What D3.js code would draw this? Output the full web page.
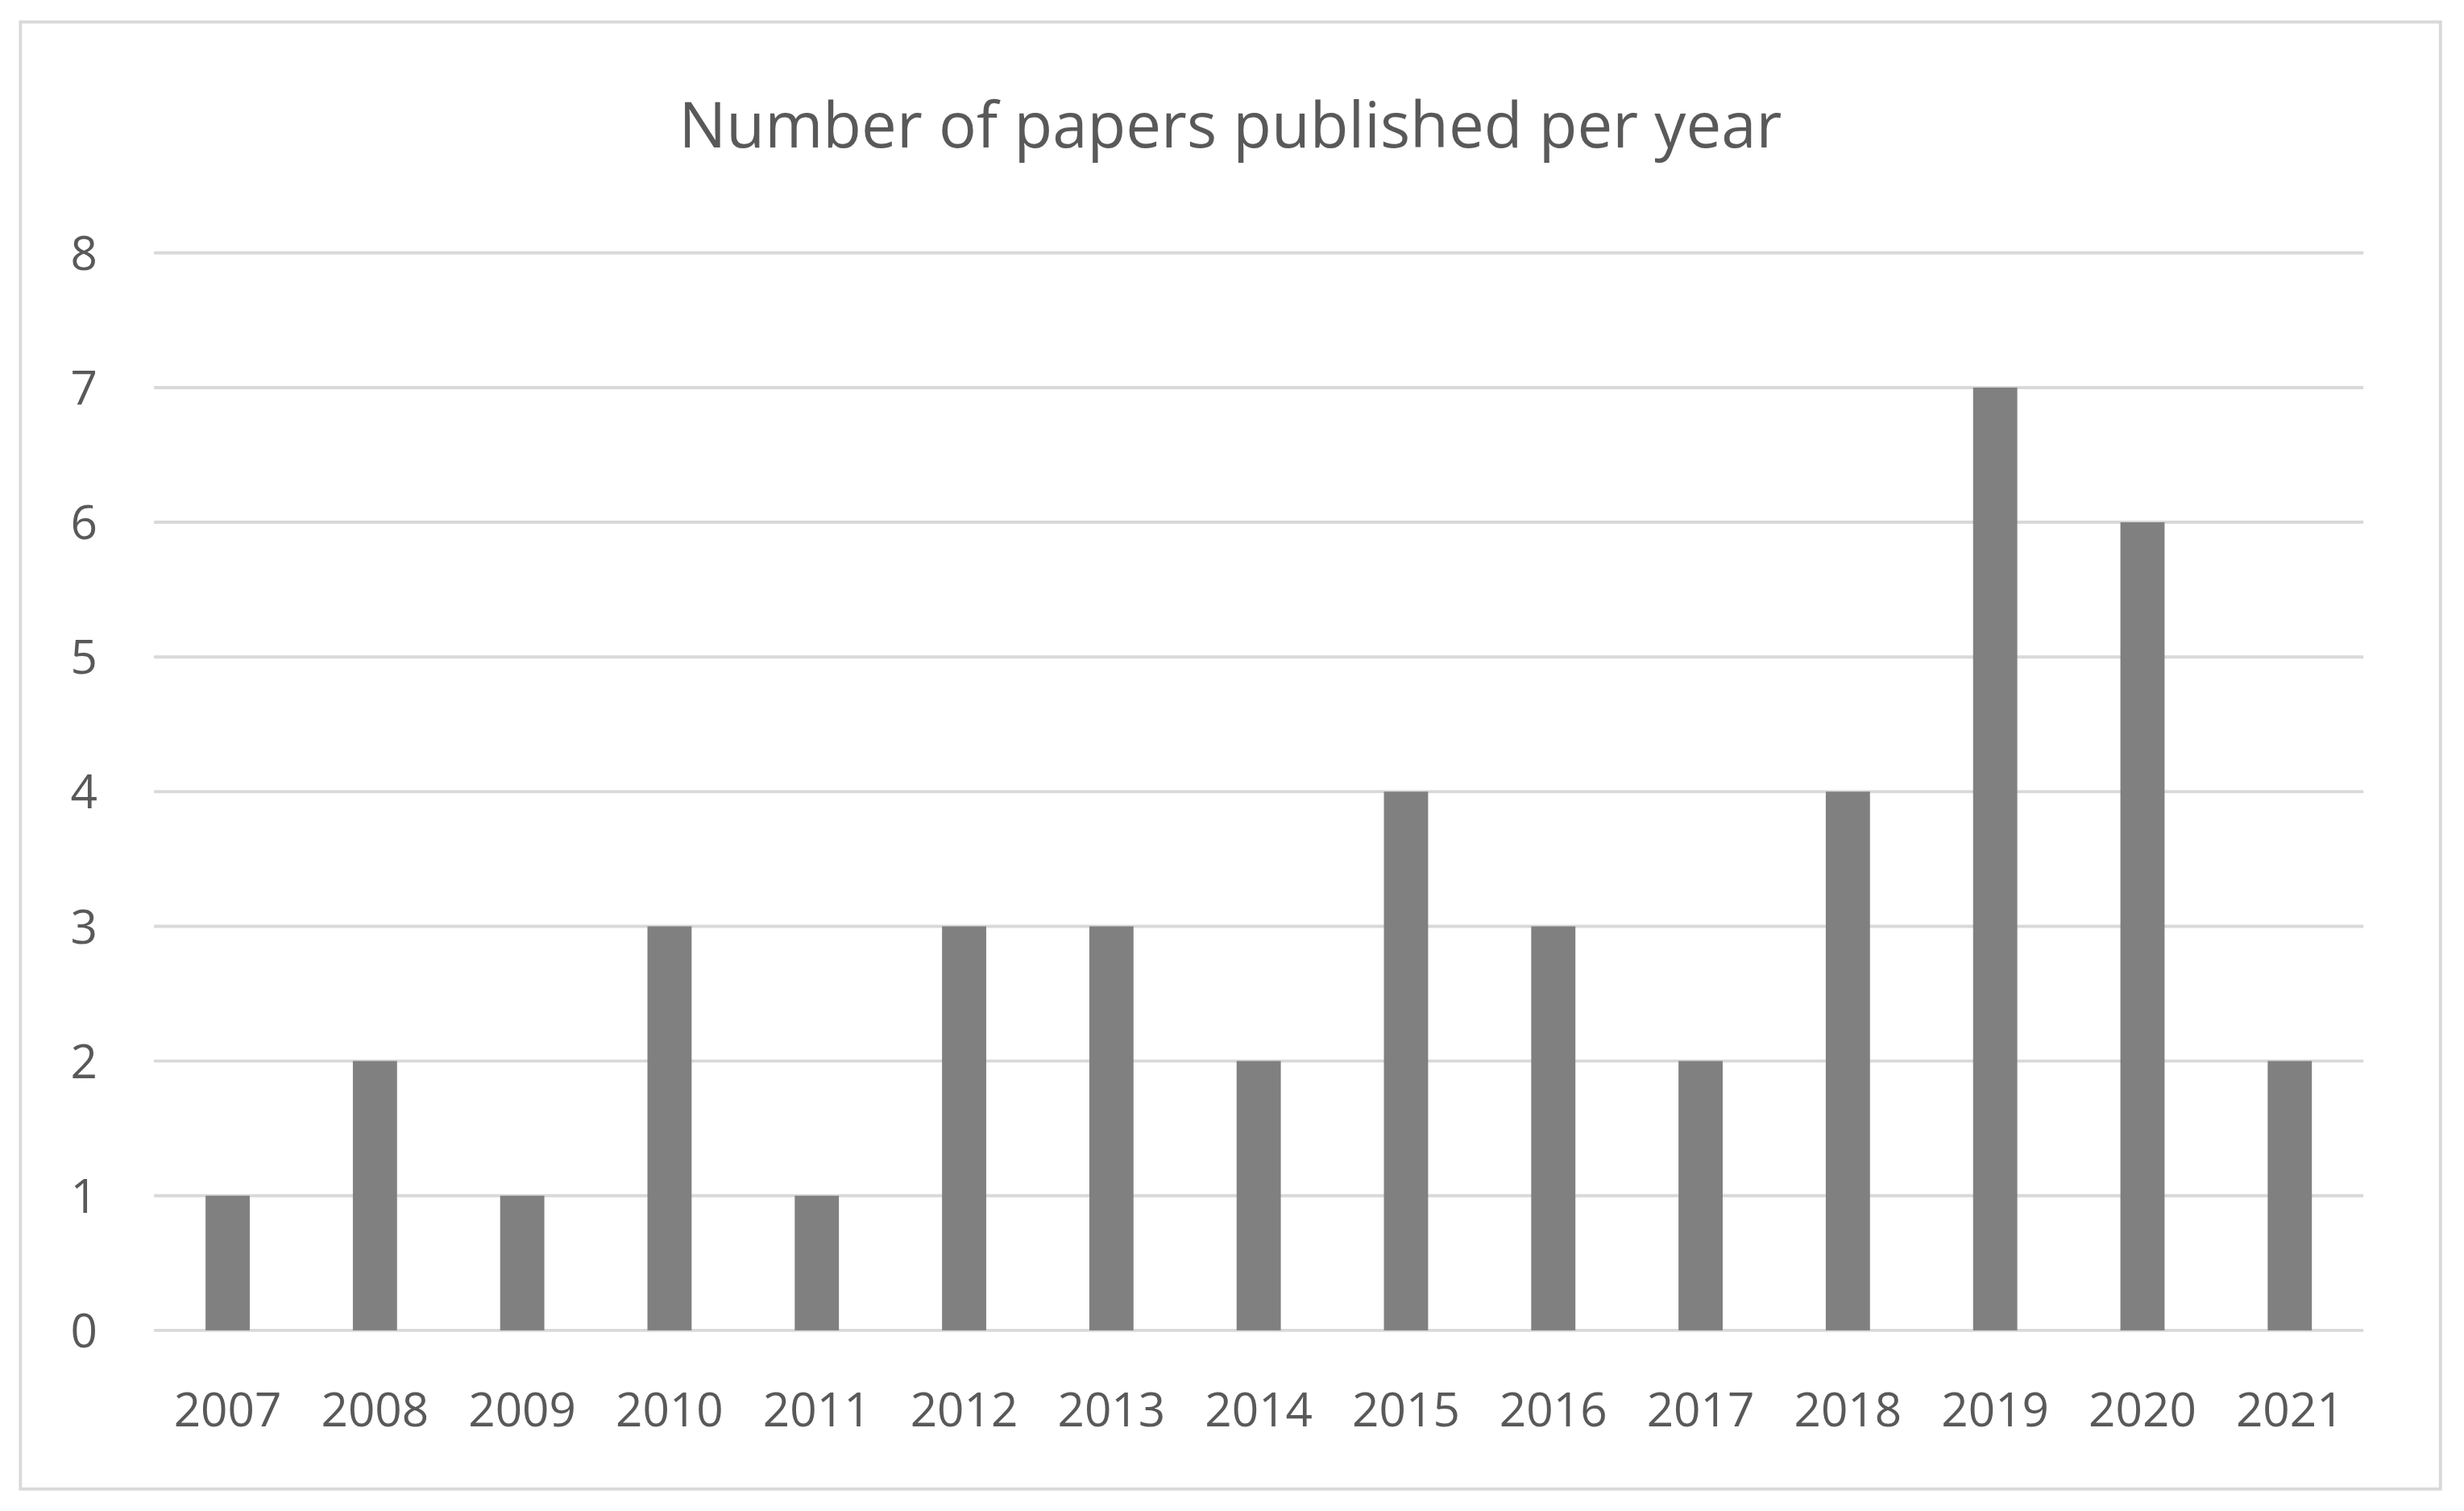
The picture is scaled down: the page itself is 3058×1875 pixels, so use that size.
<!DOCTYPE html>
<meta charset="utf-8">
<style>
body { margin: 0; background: #fff; }
svg { display: block; }
text { font-family: "Open Sans", "Noto Sans", sans-serif; fill: #595959; }
</style>
<body>
<svg id="chart"></svg>
<script src="https://cdn.jsdelivr.net/npm/d3@7"></script>
<script>

// data
var years = ["2007","2008","2009","2010","2011","2012","2013","2014","2015","2016","2017","2018","2019","2020","2021"];
var papers = [1, 2, 1, 3, 1, 3, 3, 2, 4, 3, 2, 4, 7, 6, 2];
var yTicks = [0, 1, 2, 3, 4, 5, 6, 7, 8];

var W = 1568, H = 962;
var svg = d3.select("#chart")
    .attr("viewBox", "0 0 " + W + " " + H)
    .attr("preserveAspectRatio", "none")
    .style("width", "3058px")
    .style("height", "1875px");

svg.append("rect")
    .attr("x", 13).attr("y", 14)
    .attr("width", 1540).attr("height", 934)
    .attr("fill", "#fff").attr("stroke", "#d9d9d9").attr("stroke-width", 2);

svg.append("text")
    .attr("x", 783).attr("y", 94)
    .attr("text-anchor", "middle")
    .style("font-size", "40px")
    .text("Number of papers published per year");

var x = d3.scaleBand().domain(years).range([98, 1504]).paddingInner(0.7).paddingOuter(0.35);
var y = d3.scaleLinear().domain([0, 8]).range([847, 161]);

svg.append("g")
  .selectAll("line")
  .data(yTicks)
  .enter().append("line")
    .attr("x1", 98).attr("x2", 1504)
    .attr("y1", function(d) { return y(d); })
    .attr("y2", function(d) { return y(d); })
    .attr("stroke", "#d9d9d9").attr("stroke-width", 2);

svg.append("g")
  .selectAll("text")
  .data(yTicks)
  .enter().append("text")
    .attr("x", 62)
    .attr("y", function(d) { return y(d); })
    .attr("dy", "0.36em")
    .attr("text-anchor", "end")
    .style("font-size", "30px")
    .text(function(d) { return d; });

svg.append("g")
  .selectAll("rect")
  .data(papers)
  .enter().append("rect")
    .attr("x", function(d, i) { return x(years[i]); })
    .attr("width", x.bandwidth())
    .attr("y", function(d) { return y(d); })
    .attr("height", function(d) { return y(0) - y(d); })
    .attr("fill", "#808080");

svg.append("g")
  .selectAll("text")
  .data(years)
  .enter().append("text")
    .attr("x", function(d) { return x(d) + x.bandwidth() / 2; })
    .attr("y", 908)
    .attr("text-anchor", "middle")
    .style("font-size", "30px")
    .text(function(d) { return d; });

</script>
</body>
